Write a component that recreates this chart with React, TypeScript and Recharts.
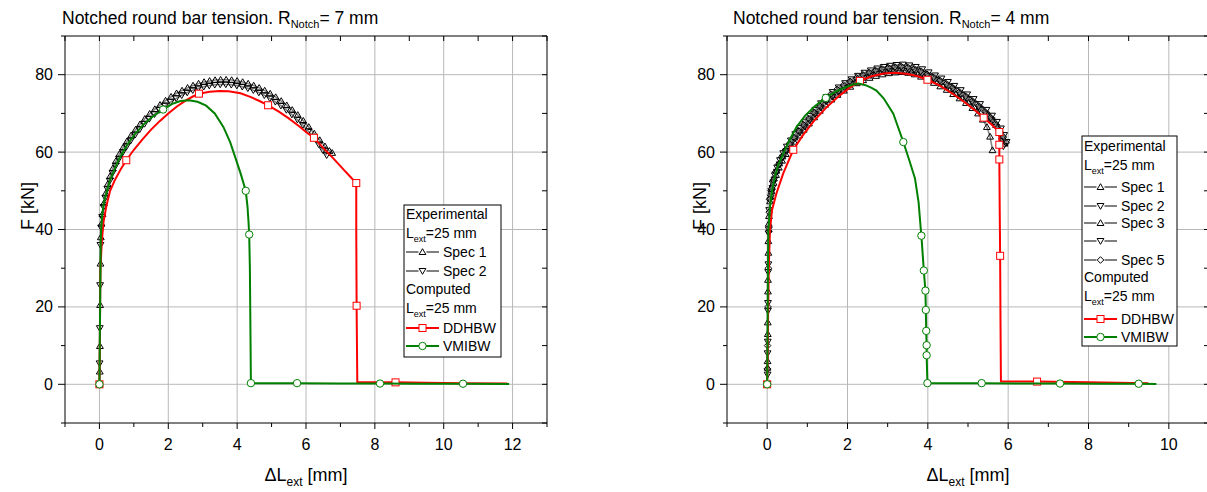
import React from "react";
import { ScatterChart, Scatter, XAxis, YAxis, CartesianGrid } from "recharts";

const FONT = "Arial, 'Liberation Sans', Helvetica, sans-serif";

// ---- axes ----
const Y_DOMAIN = [-10, 90];
const Y_TICKS = [-10, 0, 10, 20, 30, 40, 50, 60, 70, 80, 90];
const Y_LABELS = [0, 20, 40, 60, 80];

const X7_DOMAIN = [-1, 13];
const X7_TICKS = [-1, 0, 1, 2, 3, 4, 5, 6, 7, 8, 9, 10, 11, 12, 13];
const X7_LABELS = [0, 2, 4, 6, 8, 10, 12];

const X4_DOMAIN = [-1, 11];
const X4_TICKS = [-1, 0, 1, 2, 3, 4, 5, 6, 7, 8, 9, 10, 11];
const X4_LABELS = [0, 2, 4, 6, 8, 10];

// ---- R notch = 7 mm ----
const R7_SPEC1 = [
  [0, 0], [0.01, 3.3], [0.015, 9.9], [0.02, 20.5], [0.03, 31.2], [0.04, 38], [0.06, 41.5],
  [0.09, 44], [0.13, 46.8], [0.18, 49.3], [0.24, 51.7], [0.31, 53.8], [0.39, 55.8], [0.48, 57.7],
  [0.58, 59.5], [0.69, 61.2], [0.8, 62.8], [0.92, 64.3], [1.05, 65.8], [1.18, 67.2], [1.32, 68.6],
  [1.46, 69.9], [1.61, 71.1], [1.76, 72.2], [1.92, 73.3], [2.08, 74.3], [2.24, 75.2], [2.4, 75.9],
  [2.56, 76.6], [2.72, 77.2], [2.88, 77.7], [3.04, 78.1], [3.2, 78.4], [3.36, 78.6], [3.52, 78.7],
  [3.68, 78.7], [3.84, 78.6], [4, 78.4], [4.16, 78.1], [4.32, 77.7], [4.48, 77.2], [4.64, 76.6],
  [4.8, 75.9], [4.96, 75.1], [5.12, 74.2], [5.28, 73.2], [5.44, 72.1], [5.6, 70.9], [5.76, 69.6],
  [5.92, 68.1], [6.08, 66.5], [6.24, 64.8], [6.4, 63.1], [6.55, 61.5], [6.68, 60.3], [6.76, 59.8],
];
const R7_SPEC2 = [
  [0, 0], [0.005, 5.4], [0.01, 14.5], [0.02, 25.6], [0.03, 36], [0.05, 40.5], [0.08, 43.2],
  [0.12, 45.8], [0.17, 48.2], [0.23, 50.5], [0.3, 52.6], [0.38, 54.6], [0.47, 56.5], [0.57, 58.3],
  [0.68, 60], [0.79, 61.5], [0.91, 63], [1.04, 64.5], [1.17, 65.9], [1.31, 67.3], [1.45, 68.6],
  [1.6, 69.8], [1.75, 70.9], [1.91, 72], [2.07, 73], [2.23, 73.9], [2.39, 74.7], [2.55, 75.4],
  [2.71, 76], [2.87, 76.5], [3.03, 76.9], [3.19, 77.2], [3.35, 77.4], [3.51, 77.5], [3.67, 77.5],
  [3.83, 77.4], [3.99, 77.2], [4.15, 76.9], [4.31, 76.5], [4.47, 76], [4.63, 75.4], [4.79, 74.7],
  [4.95, 73.9], [5.11, 73], [5.27, 72], [5.43, 70.9], [5.59, 69.7], [5.75, 68.4], [5.91, 67],
  [6.07, 65.4], [6.23, 63.7], [6.37, 62], [6.49, 60.5], [6.6, 59.2],
];
// third value 1 = point carries a marker
const R7_DDHBW = [
  [0, 0, 1], [0.01, 10], [0.02, 20], [0.03, 30], [0.07, 37], [0.12, 42], [0.2, 46], [0.31, 50],
  [0.45, 52.8], [0.62, 55.6], [0.78, 57.9, 1], [1, 60.6], [1.25, 63.3], [1.5, 65.8], [1.75, 68],
  [2, 70], [2.25, 71.8], [2.5, 73.3], [2.7, 74.3], [2.89, 75.1, 1], [3.2, 75.6], [3.5, 75.8],
  [3.75, 75.7], [4.1, 75.2], [4.4, 74.2], [4.65, 73.2], [4.9, 72.1, 1], [5.2, 70.5], [5.5, 68.7],
  [5.8, 66.7], [6, 65.2], [6.23, 63.7, 1], [6.5, 61.1], [6.8, 58.3], [7.1, 55.4], [7.3, 53.5],
  [7.46, 52, 1], [7.46, 40], [7.47, 20.3, 1], [7.48, 10], [7.49, 0.6], [8, 0.5], [8.6, 0.5, 1],
  [9.5, 0.4], [10.5, 0.3], [11.85, 0.2],
];
const R7_VMIBW = [
  [0, 0, 1], [0.01, 10], [0.02, 20], [0.03, 30], [0.04, 38], [0.07, 43], [0.12, 46.5],
  [0.17, 48.4], [0.3, 52.5], [0.55, 57.9], [0.8, 61.8], [1.04, 64.8], [1.3, 67.3], [1.55, 69.2],
  [1.85, 71, 1], [2.1, 72.4], [2.35, 73.2], [2.6, 73.4], [2.85, 73], [3.1, 72], [3.35, 70],
  [3.6, 66.5], [3.8, 62.5], [3.95, 58.5], [4.1, 54.5], [4.25, 50, 1], [4.3, 46], [4.33, 42],
  [4.35, 38.7, 1], [4.37, 30], [4.38, 20], [4.39, 10], [4.4, 0.3, 1], [5, 0.3], [5.74, 0.3, 1],
  [7, 0.2], [8.15, 0.2, 1], [9.3, 0.15], [10.56, 0.15, 1], [11.9, 0.1],
];

// ---- R notch = 4 mm ----
const R4_SPEC1 = [
  [0, 0], [0.01, 4.3], [0.015, 13], [0.02, 24], [0.03, 34], [0.04, 41.5], [0.08, 48.5],
  [0.12, 51], [0.17, 53.2], [0.23, 55.2], [0.3, 57.1], [0.38, 58.9], [0.47, 60.6], [0.57, 62.2],
  [0.68, 63.8], [0.8, 65.4], [0.92, 66.9], [1.05, 68.5], [1.18, 70.1], [1.32, 71.8], [1.46, 73.4],
  [1.61, 74.7], [1.76, 75.9], [1.92, 77], [2.08, 78], [2.24, 78.9], [2.4, 79.7], [2.56, 80.3],
  [2.72, 80.8], [2.88, 81.2], [3.04, 81.5], [3.2, 81.7], [3.36, 81.8], [3.52, 81.6], [3.68, 81.2],
  [3.84, 80.6], [4, 79.8], [4.16, 79], [4.32, 78.2], [4.48, 77.3], [4.64, 76.3], [4.8, 75.2],
  [4.96, 74.1], [5.12, 72.9], [5.28, 71.6], [5.44, 70.1], [5.58, 68.6], [5.7, 67], [5.8, 65.3],
  [5.87, 63.6], [5.91, 62.2],
];
const R4_SPEC2 = [
  [0, 0], [0.01, 8], [0.02, 19], [0.025, 29], [0.035, 39], [0.05, 45], [0.1, 49.5],
  [0.14, 51.9], [0.19, 54], [0.25, 56], [0.32, 57.9], [0.4, 59.7], [0.49, 61.4], [0.59, 63],
  [0.7, 64.6], [0.82, 66.2], [0.94, 67.7], [1.07, 69.3], [1.2, 70.9], [1.34, 72.6], [1.48, 74.2],
  [1.63, 75.5], [1.78, 76.7], [1.94, 77.8], [2.1, 78.8], [2.26, 79.7], [2.42, 80.5], [2.58, 81.1],
  [2.74, 81.6], [2.9, 82], [3.06, 82.3], [3.22, 82.5], [3.38, 82.6], [3.54, 82.4], [3.7, 82],
  [3.86, 81.4], [4.02, 80.6], [4.18, 79.8], [4.34, 79], [4.5, 78.1], [4.66, 77.1], [4.82, 76],
  [4.98, 74.9], [5.14, 73.7], [5.3, 72.4], [5.46, 70.9], [5.6, 69.4], [5.72, 67.8], [5.82, 66.1],
  [5.9, 64.4], [5.96, 62.6],
];
const R4_SPEC3 = [
  [0, 0], [0.01, 6], [0.015, 16], [0.02, 27], [0.03, 37], [0.045, 43.5], [0.07, 47.3],
  [0.11, 49.9], [0.16, 52.1], [0.22, 54.1], [0.29, 56], [0.37, 57.8], [0.46, 59.5], [0.56, 61.1],
  [0.67, 62.7], [0.79, 64.3], [0.91, 65.8], [1.04, 67.4], [1.17, 69], [1.31, 70.7], [1.45, 72.3],
  [1.6, 73.6], [1.75, 74.8], [1.91, 75.9], [2.07, 76.9], [2.23, 77.8], [2.39, 78.6], [2.55, 79.2],
  [2.71, 79.7], [2.87, 80.1], [3.03, 80.4], [3.19, 80.6], [3.35, 80.7], [3.51, 80.5], [3.67, 80.1],
  [3.83, 79.5], [3.99, 78.7], [4.15, 77.9], [4.31, 77], [4.47, 76.1], [4.63, 75], [4.79, 73.9],
  [4.95, 72.7], [5.11, 71.4], [5.25, 70], [5.37, 68.4], [5.47, 66.5], [5.55, 64], [5.61, 60.5],
];
const R4_SPEC4 = [
  [0, 0], [0.01, 2.5], [0.015, 11], [0.02, 21], [0.03, 31], [0.04, 40], [0.09, 48.3],
  [0.13, 50.7], [0.18, 52.9], [0.24, 54.9], [0.31, 56.8], [0.39, 58.6], [0.48, 60.3], [0.58, 61.9],
  [0.69, 63.5], [0.81, 65.1], [0.93, 66.6], [1.06, 68.2], [1.19, 69.8], [1.33, 71.5], [1.47, 73.1],
  [1.62, 74.3], [1.77, 75.5], [1.93, 76.6], [2.09, 77.6], [2.25, 78.5], [2.41, 79.3], [2.57, 79.9],
  [2.73, 80.4], [2.89, 80.8], [3.05, 81.1], [3.21, 81.3], [3.37, 81.4], [3.53, 81.2], [3.69, 80.8],
  [3.85, 80.2], [4.01, 79.4], [4.17, 78.6], [4.33, 77.8], [4.49, 76.9], [4.65, 75.9], [4.81, 74.8],
  [4.97, 73.7], [5.13, 72.5], [5.29, 71.2], [5.45, 69.7], [5.59, 68.2], [5.7, 66.5], [5.79, 64.6],
  [5.85, 62.9], [5.88, 61.5],
];
const R4_SPEC5 = [
  [0, 0], [0.005, 4], [0.01, 10], [0.02, 20], [0.03, 30], [0.04, 39.5], [0.05, 44.5],
  [0.06, 47.8], [0.1, 50.5], [0.15, 52.8], [0.21, 54.9], [0.28, 56.8], [0.36, 58.7], [0.45, 60.5],
  [0.55, 62.1], [0.66, 63.8], [0.78, 65.5], [0.9, 67.1], [1.03, 68.7], [1.16, 70.3], [1.3, 72],
  [1.44, 73.6], [1.59, 75], [1.74, 76.2], [1.9, 77.3], [2.06, 78.3], [2.22, 79.2], [2.38, 80],
  [2.54, 80.6], [2.7, 81.1], [2.86, 81.5], [3.02, 81.8], [3.18, 82], [3.34, 82.1], [3.5, 81.9],
  [3.66, 81.5], [3.82, 80.9], [3.98, 80.1], [4.14, 79.3], [4.3, 78.5], [4.46, 77.6], [4.62, 76.6],
  [4.78, 75.5], [4.94, 74.4], [5.1, 73.2], [5.26, 71.9], [5.42, 70.4], [5.56, 68.9], [5.68, 67.3],
  [5.79, 65.6], [5.88, 63.9], [5.95, 62.4],
];
const R4_DDHBW = [
  [0, 0, 1], [0.02, 15], [0.04, 30], [0.07, 39.8], [0.12, 45], [0.23, 49.3], [0.4, 54.5],
  [0.65, 60.6, 1], [0.9, 64.5], [1.2, 68.5], [1.5, 71.8], [1.8, 74.6], [2.05, 76.6], [2.31, 78.4, 1],
  [2.6, 79.6], [2.9, 80.3], [3.2, 80.5], [3.5, 80.2], [3.75, 79.6], [3.99, 78.7, 1], [4.3, 77.2],
  [4.6, 75.2], [4.9, 73], [5.15, 71], [5.39, 68.9, 1], [5.6, 67], [5.78, 65.2, 1], [5.78, 61.9, 1],
  [5.78, 58.1, 1], [5.79, 45], [5.8, 33.2, 1], [5.81, 15], [5.82, 0.7], [6.2, 0.7], [6.72, 0.7, 1],
  [8, 0.5], [9.49, 0.3],
];
const R4_VMIBW = [
  [0, 0, 1], [0.01, 15], [0.02, 30], [0.03, 40], [0.07, 45.8], [0.12, 50], [0.19, 53.6],
  [0.28, 56.8], [0.4, 59.6], [0.55, 63], [0.73, 66.5], [0.95, 69.5], [1.2, 72], [1.46, 74, 1],
  [1.7, 75.6], [1.95, 76.8], [2.12, 77.4], [2.27, 77.7], [2.45, 77.3], [2.6, 76.6], [2.72, 75.9],
  [2.9, 73.9], [3.14, 69.9], [3.39, 62.6, 1], [3.55, 57.5], [3.68, 53.2], [3.77, 47], [3.83, 39.4],
  [3.84, 38.4, 1], [3.9, 29.4, 1], [3.94, 24.2, 1], [3.95, 19.2, 1], [3.96, 13.8, 1], [3.97, 10.1, 1],
  [3.97, 7.5, 1], [3.99, 0.3, 1], [4.6, 0.3], [5.34, 0.3, 1], [6.3, 0.2], [7.29, 0.2, 1], [8.3, 0.15],
  [9.25, 0.15, 1], [9.69, 0.1],
];

type Kind = "up" | "down" | "diamond" | "square" | "circle";

interface SeriesDef {
  name: string;
  rows: number[][];
  kind: Kind;
  color: string;
  width: number;
  all: boolean;
}

const GRAY = "#808080";
const RED = "#ff0000";
const GREEN = "#008000";

const R7_SERIES: SeriesDef[] = [
  { name: "Spec 1", rows: R7_SPEC1, kind: "up", color: GRAY, width: 1.5, all: true },
  { name: "Spec 2", rows: R7_SPEC2, kind: "down", color: GRAY, width: 1.5, all: true },
  { name: "DDHBW", rows: R7_DDHBW, kind: "square", color: RED, width: 2, all: false },
  { name: "VMIBW", rows: R7_VMIBW, kind: "circle", color: GREEN, width: 2, all: false },
];

const R4_SERIES: SeriesDef[] = [
  { name: "Spec 1", rows: R4_SPEC1, kind: "up", color: GRAY, width: 1.5, all: true },
  { name: "Spec 2", rows: R4_SPEC2, kind: "down", color: GRAY, width: 1.5, all: true },
  { name: "Spec 3", rows: R4_SPEC3, kind: "up", color: GRAY, width: 1.5, all: true },
  { name: "Spec 4", rows: R4_SPEC4, kind: "down", color: GRAY, width: 1.5, all: true },
  { name: "Spec 5", rows: R4_SPEC5, kind: "diamond", color: GRAY, width: 1.5, all: true },
  { name: "DDHBW", rows: R4_DDHBW, kind: "square", color: RED, width: 2, all: false },
  { name: "VMIBW", rows: R4_VMIBW, kind: "circle", color: GREEN, width: 2, all: false },
];

function Mark({ kind, cx, cy, color }: { kind: Kind; cx: number; cy: number; color: string }) {
  if (kind === "up")
    return (
      <polygon
        points={`${cx},${cy - 3.3} ${cx + 3.4},${cy + 2.5} ${cx - 3.4},${cy + 2.5}`}
        fill="none"
        stroke="#000"
        strokeWidth={1}
      />
    );
  if (kind === "down")
    return (
      <polygon
        points={`${cx},${cy + 3.3} ${cx + 3.4},${cy - 2.5} ${cx - 3.4},${cy - 2.5}`}
        fill="none"
        stroke="#000"
        strokeWidth={1}
      />
    );
  if (kind === "diamond")
    return (
      <polygon
        points={`${cx},${cy - 3.3} ${cx + 3.3},${cy} ${cx},${cy + 3.3} ${cx - 3.3},${cy}`}
        fill="none"
        stroke="#000"
        strokeWidth={1}
      />
    );
  if (kind === "square")
    return <rect x={cx - 3.5} y={cy - 3.5} width={7} height={7} fill="#fff" stroke={color} strokeWidth={1} />;
  return <circle cx={cx} cy={cy} r={3.7} fill="#fff" stroke={color} strokeWidth={1} />;
}

const W = 620;
const H = 492;
// plot box inside each panel (set by margins + axis sizes below)
const PL = 65;
const PT = 36;
const PW = 482;
const PH = 387;

const bottomTick = (labels: number[]) => (props: any) => {
  const { x, y, payload } = props;
  const major = labels.includes(payload.value);
  return (
    <g>
      <line x1={x} x2={x} y1={y} y2={y + (major ? 6 : 4)} stroke="#000" />
      {major && (
        <text x={x} y={y + 27} textAnchor="middle" fontSize={16} fontFamily={FONT} fill="#000">
          {payload.value}
        </text>
      )}
    </g>
  );
};

const leftTick = (props: any) => {
  const { x, y, payload } = props;
  const major = Y_LABELS.includes(payload.value);
  return (
    <g>
      <line x1={x - (major ? 7 : 4)} x2={x} y1={y} y2={y} stroke="#000" />
      {major && (
        <text x={x - 12} y={y + 5.5} textAnchor="end" fontSize={16} fontFamily={FONT} fill="#000">
          {payload.value}
        </text>
      )}
    </g>
  );
};

type LegendRow =
  | { text: string; y: number }
  | { lext: true; y: number }
  | { series: SeriesDef; label: string; y: number };

function Legend({ left, top, width, height, rows }: { left: number; top: number; width: number; height: number; rows: LegendRow[] }) {
  return (
    <g fontFamily={FONT} fontSize={14} fill="#000">
      <rect x={left} y={top} width={width} height={height} fill="#fff" stroke="#000" strokeWidth={1} />
      {rows.map((r, i) => {
        if ("text" in r)
          return (
            <text key={i} x={left + 2} y={r.y + 5}>
              {r.text}
            </text>
          );
        if ("lext" in r)
          return (
            <text key={i} x={left + 2} y={r.y + 5}>
              L
              <tspan fontSize={9} dy={4}>
                ext
              </tspan>
              <tspan dy={-4}>=25 mm</tspan>
            </text>
          );
        const s = r.series;
        return (
          <g key={i}>
            <line x1={left + 2} x2={left + 35} y1={r.y} y2={r.y} stroke={s.color} strokeWidth={2} />
            {s.all && <rect x={left + 14.5} y={r.y - 3.5} width={8} height={7} fill="#fff" stroke="none" />}
            <Mark kind={s.kind} cx={left + 18.5} cy={r.y} color={s.color} />
            {r.label && (
              <text x={left + 39} y={r.y + 5}>
                {r.label}
              </text>
            )}
          </g>
        );
      })}
    </g>
  );
}

// top and right frame with inward ticks (mirrors the bottom/left axes)
function Frame({ xDomain, xTicks }: { xDomain: number[]; xTicks: number[] }) {
  const sx = (v: number) => PL + ((v - xDomain[0]) / (xDomain[1] - xDomain[0])) * PW;
  const sy = (v: number) => PT + PH - ((v - Y_DOMAIN[0]) / (Y_DOMAIN[1] - Y_DOMAIN[0])) * PH;
  return (
    <g stroke="#000" strokeWidth={1}>
      <line x1={PL} x2={PL + PW} y1={PT} y2={PT} />
      <line x1={PL + PW} x2={PL + PW} y1={PT} y2={PT + PH} />
      {xTicks.map((v) => (
        <line key={`t${v}`} x1={sx(v)} x2={sx(v)} y1={PT} y2={PT + 5} />
      ))}
      {Y_TICKS.map((v) => (
        <line key={`r${v}`} x1={PL + PW - 5} x2={PL + PW} y1={sy(v)} y2={sy(v)} />
      ))}
    </g>
  );
}

function Panel({
  offsetX,
  xDomain,
  xTicks,
  xLabels,
  series,
  notch,
  titleX,
  yLabelX,
  legend,
}: {
  offsetX: number;
  xDomain: number[];
  xTicks: number[];
  xLabels: number[];
  series: SeriesDef[];
  notch: string;
  titleX: number;
  yLabelX: number;
  legend: React.ReactNode;
}) {
  return (
    <div style={{ position: "absolute", left: offsetX, top: 0, width: W, height: H }}>
      <ScatterChart width={W} height={H} margin={{ top: PT, right: W - PL - PW, bottom: 0, left: 0 }}>
        <CartesianGrid
          stroke="#b8b8b8"
          strokeWidth={1}
          verticalValues={xLabels}
          horizontalValues={Y_LABELS}
        />
        <XAxis
          type="number"
          dataKey="x"
          domain={xDomain}
          ticks={xTicks}
          interval={0}
          allowDataOverflow
          height={H - PT - PH}
          tickSize={0}
          tickMargin={0}
          tickLine={false}
          axisLine={{ stroke: "#000" }}
          tick={bottomTick(xLabels)}
        />
        <YAxis
          type="number"
          dataKey="y"
          domain={Y_DOMAIN}
          ticks={Y_TICKS}
          interval={0}
          allowDataOverflow
          width={PL}
          tickSize={0}
          tickMargin={0}
          tickLine={false}
          axisLine={{ stroke: "#000" }}
          tick={leftTick}
        />
        {series.map((s) => (
          <Scatter
            key={s.name}
            name={s.name}
            data={s.rows.map(([x, y, m]) => ({ x, y, m: s.all || m === 1 }))}
            line={{ stroke: s.color, strokeWidth: s.width }}
            lineType="joint"
            isAnimationActive={false}
            shape={(p: any) =>
              p.payload && p.payload.m ? <Mark kind={s.kind} cx={p.cx} cy={p.cy} color={s.color} /> : <g />
            }
          />
        ))}
      </ScatterChart>
      <svg
        width={W}
        height={H}
        style={{ position: "absolute", left: 0, top: 0, pointerEvents: "none" }}
      >
        <Frame xDomain={xDomain} xTicks={xTicks} />
        <text x={titleX} y={24} fontFamily={FONT} fontSize={17.5} fill="#000">
          Notched round bar tension. R
          <tspan fontSize={11} dy={4}>
            Notch
          </tspan>
          <tspan dy={-4}>{`= ${notch} mm`}</tspan>
        </text>
        <text x={PL + PW / 2} y={481} textAnchor="middle" fontFamily={FONT} fontSize={18} fill="#000">
          ΔL
          <tspan fontSize={12} dy={5}>
            ext
          </tspan>
          <tspan dy={-5}> [mm]</tspan>
        </text>
        <text
          x={yLabelX}
          y={206}
          transform={`rotate(-90, ${yLabelX}, 206)`}
          textAnchor="middle"
          fontFamily={FONT}
          fontSize={18}
          fill="#000"
        >
          F [kN]
        </text>
        {legend}
      </svg>
    </div>
  );
}

export default function App() {
  const r7Legend = (
    <Legend
      left={404}
      top={205}
      width={97}
      height={152}
      rows={[
        { text: "Experimental", y: 214 },
        { lext: true, y: 233 },
        { series: R7_SERIES[0], label: "Spec 1", y: 252 },
        { series: R7_SERIES[1], label: "Spec 2", y: 271 },
        { text: "Computed", y: 289 },
        { lext: true, y: 308 },
        { series: R7_SERIES[2], label: "DDHBW", y: 328 },
        { series: R7_SERIES[3], label: "VMIBW", y: 346 },
      ]}
    />
  );
  const r4Legend = (
    <Legend
      left={420}
      top={136}
      width={95}
      height={210}
      rows={[
        { text: "Experimental", y: 146 },
        { lext: true, y: 165 },
        { series: R4_SERIES[0], label: "Spec 1", y: 187 },
        { series: R4_SERIES[1], label: "Spec 2", y: 206 },
        { series: R4_SERIES[2], label: "Spec 3", y: 223 },
        { series: R4_SERIES[3], label: "", y: 241 },
        { series: R4_SERIES[4], label: "Spec 5", y: 260 },
        { text: "Computed", y: 277 },
        { lext: true, y: 296 },
        { series: R4_SERIES[5], label: "DDHBW", y: 319 },
        { series: R4_SERIES[6], label: "VMIBW", y: 337 },
      ]}
    />
  );
  return (
    <div
      style={{
        position: "absolute",
        left: 0,
        top: 0,
        width: 1207,
        height: 492,
        overflow: "hidden",
        background: "#fff",
      }}
    >
      <Panel
        offsetX={0}
        xDomain={X7_DOMAIN}
        xTicks={X7_TICKS}
        xLabels={X7_LABELS}
        series={R7_SERIES}
        notch="7"
        titleX={62}
        yLabelX={34}
        legend={r7Legend}
      />
      <Panel
        offsetX={662}
        xDomain={X4_DOMAIN}
        xTicks={X4_TICKS}
        xLabels={X4_LABELS}
        series={R4_SERIES}
        notch="4"
        titleX={71}
        yLabelX={44}
        legend={r4Legend}
      />
    </div>
  );
}
